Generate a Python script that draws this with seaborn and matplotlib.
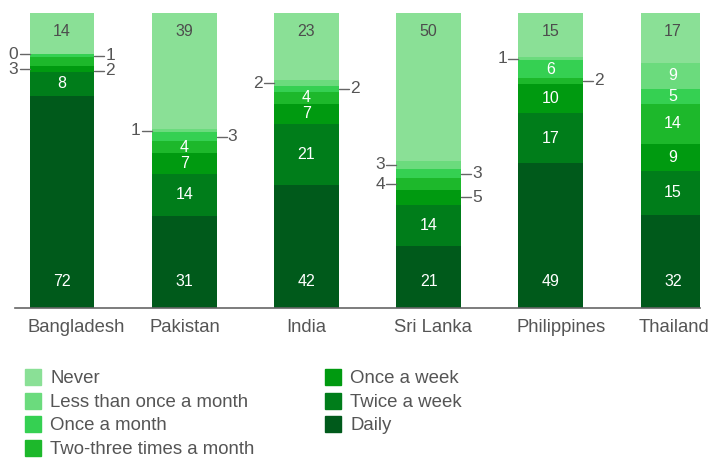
import matplotlib
matplotlib.use("Agg")
import matplotlib.pyplot as plt
from matplotlib.patches import Rectangle
import numpy as np
import pandas as pd
import seaborn as sns

# Survey data: share of respondents (%) by frequency, per country
countries = ["Bangladesh", "Pakistan", "India", "Sri Lanka", "Philippines", "Thailand"]
levels = ["Never", "Less than once a month", "Once a month",
          "Two-three times a month", "Once a week", "Twice a week", "Daily"]
never       = [14, 39, 23, 50, 15, 17]
less_month  = [0, 1, 2, 3, 1, 9]
once_month  = [1, 3, 2, 3, 6, 5]
two_three   = [3, 4, 4, 4, 2, 14]
once_week   = [2, 7, 7, 5, 10, 9]
twice_week  = [8, 14, 21, 14, 17, 15]
daily       = [72, 31, 42, 21, 49, 32]

colors = {
    "Never": "#8ae096",
    "Less than once a month": "#6bdb7d",
    "Once a month": "#35d052",
    "Two-three times a month": "#1db82b",
    "Once a week": "#009a10",
    "Twice a week": "#007d1a",
    "Daily": "#005a1b",
}

values = {
    "Never": never, "Less than once a month": less_month, "Once a month": once_month,
    "Two-three times a month": two_three, "Once a week": once_week,
    "Twice a week": twice_week, "Daily": daily,
}

# 100% stacked: each country's answers are scaled to its own total
stack = levels[::-1]
rows = []
for i, c in enumerate(countries):
    total = sum(values[lv][i] for lv in levels)
    run = 0.0
    for lv in stack:
        v = values[lv][i]
        share = v * 100.0 / total
        rows.append({"country": c, "level": lv, "value": v,
                     "bottom": run, "top": run + share})
        run += share
df = pd.DataFrame(rows)

sns.set_theme(style="white")
plt.rcParams["font.family"] = ["Liberation Sans", "DejaVu Sans"]

W, H = 713, 458
fig = plt.figure(figsize=(W / 100, H / 100), dpi=100)
ax_l, ax_r, ax_t, ax_b = 15, 700, 13, 308
ax = fig.add_axes([ax_l / W, 1 - ax_b / H, (ax_r - ax_l) / W, (ax_b - ax_t) / H])

bar_w = 0.53
# Draw cumulative totals from the top layer down so each layer covers the previous
for lv in levels:
    sub = df[df["level"] == lv]
    sns.barplot(data=sub, x="country", y="top", order=countries, color=colors[lv],
                saturation=1, width=bar_w, linewidth=0, ax=ax, errorbar=None)

px_per_x = 122.2
x0 = -(62 - ax_l) / px_per_x
ax.set_xlim(x0, x0 + (ax_r - ax_l) / px_per_x)
ax.set_ylim(0, 100)
px_per_y = (ax_b - ax_t) / 100.0

for s in ["top", "right", "left"]:
    ax.spines[s].set_visible(False)
ax.spines["bottom"].set_color("#666666")
ax.spines["bottom"].set_linewidth(1.2)
ax.set_yticks([])
ax.set_xlabel("")
ax.set_ylabel("")
ax.tick_params(axis="x", length=0, labelbottom=False)

# Category names: centred under narrow names, wide names start at the bar's left edge
renderer = fig.canvas.get_renderer()
bar_px = bar_w * px_per_x
xt = ax.get_xaxis_transform()
for i, c in enumerate(countries):
    t = ax.text(i, -0.065, c, ha="center", va="center", fontsize=13.3,
                color="#555555", transform=xt, clip_on=False)
    wpx = t.get_window_extent(renderer).width
    if wpx > bar_px:
        t.set_ha("left")
        t.set_x(i - bar_w / 2 - 2 / px_per_x)

label_fs = 11.5
gap = 15 / px_per_y
dash = 10 / px_per_x

for i, c in enumerate(countries):
    sub = df[df["country"] == c].set_index("level")
    outside = []
    for lv in levels:
        v = sub.loc[lv, "value"]
        b, t = sub.loc[lv, "bottom"], sub.loc[lv, "top"]
        extra = c == "Sri Lanka" and lv in ("Two-three times a month", "Once a week")
        if lv not in ("Never", "Daily") and (v <= 3 or extra):
            outside.append((lv, v, (b + t) / 2))
            continue
        if lv == "Never":
            y = 100 - 19 / px_per_y
            col = "#4d4d4d"
        elif lv == "Daily":
            y = 26 / px_per_y
            col = "white"
        else:
            y = (b + t) / 2
            col = "white"
        ax.text(i, y, str(v), ha="center", va="center", fontsize=label_fs, color=col)

    # Small segments: labels alternate left/right, spaced so they don't collide
    sides = {"L": [], "R": []}
    for k, item in enumerate(outside):
        sides["L" if k % 2 == 0 else "R"].append(item)
    for side, items in sides.items():
        prev = None
        for lv, v, y in items:
            if prev is not None:
                y = min(y, prev - gap)
            prev = y
            if side == "L":
                edge = i - bar_w / 2
                ax.plot([edge - dash, edge], [y, y], color="#666666", lw=1, clip_on=False)
                ax.text(edge - dash - 0.01, y, str(v), ha="right", va="center",
                        fontsize=12.5, color="#555555")
            else:
                edge = i + bar_w / 2
                ax.plot([edge, edge + dash], [y, y], color="#666666", lw=1, clip_on=False)
                ax.text(edge + dash + 0.01, y, str(v), ha="left", va="center",
                        fontsize=12.5, color="#555555")

# Legend in two columns
leg_rows = [377, 401, 424, 448]
cols_x = [25, 325]
sq = 16
for k, lv in enumerate(levels):
    col, row = divmod(k, 4)
    x, yc = cols_x[col], leg_rows[row]
    fig.patches.append(Rectangle((x / W, 1 - (yc + sq / 2) / H), sq / W, sq / H,
                                 transform=fig.transFigure, color=colors[lv]))
    fig.text((x + 25) / W, 1 - (yc + 1.5) / H, lv, ha="left", va="center",
             fontsize=13.4, color="#555555")

fig.savefig("out.png", dpi=100)
